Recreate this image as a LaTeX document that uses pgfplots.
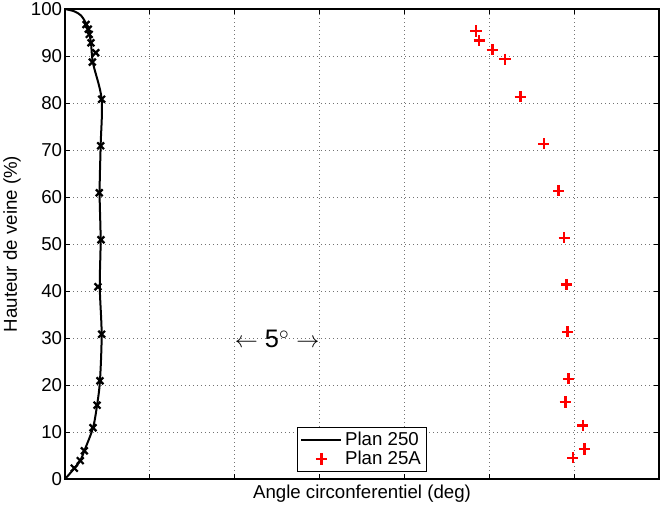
\documentclass[border=0pt]{standalone}
\usepackage{fontspec}
\setmainfont{Liberation Sans}
\usepackage{pgfplots}
\pgfplotsset{compat=1.18}
\pgfplotsset{
  lineleg/.style={legend image code/.code={\draw[##1] (0pt,0pt) -- (30pt,0pt);}},
  markleg/.style={legend image code/.code={\draw[mark repeat=2, mark phase=2, ##1] plot coordinates {(0pt,0pt) (15pt,0pt) (30pt,0pt)};}},
}
\begin{document}
\begin{tikzpicture}
\begin{axis}[name=ax, scale only axis, width=445.5pt, height=352.5pt,
  xmin=0, xmax=35, ymin=0, ymax=100,
  xtick={0,5,...,35}, xticklabels={}, ytick={0,10,...,100},
  grid=major, grid style={dash pattern=on 0.7pt off 2.3pt, line width=0.6pt, black!55},
  tick align=inside, major tick length=4pt,
  axis line style={line width=0.8pt},
  every tick/.style={black, line width=0.6pt},
  /pgf/number format/assume math mode=true,
  tick label style={font=\fontsize{14pt}{16pt}\selectfont},
  yticklabel style={inner xsep=2pt},
  label style={font=\fontsize{14pt}{16pt}\selectfont},
  xlabel={Angle circonferentiel (deg)}, ylabel={Hauteur de veine (\%)},
  xlabel style={at={(axis description cs:0.5,-0.031)}, anchor=center},
  ylabel style={at={(axis description cs:-0.0892,0.5)}, anchor=center},
  legend style={at={(axis description cs:0.5,0.015)}, anchor=south,
    font=\fontsize{14pt}{16pt}\selectfont, draw=black, line width=0.7pt,
    row sep=-1pt, inner xsep=2pt, inner ysep=1.5pt},
  legend cell align=left,
]
\addplot[black, line width=1.5pt, smooth, lineleg]
  coordinates {(0,0) (0.25,1.0) (0.55,2.3) (0.90,3.9) (1.14,6.0) (1.65,10.9) (1.89,15.7)
  (2.06,20.9) (2.16,30.8) (2.05,40.9) (2.10,50.9) (2.04,60.9) (2.10,70.9) (2.16,80.8)
  (1.65,88.5) (1.53,92.8) (1.37,95.7) (1.20,97.2) (0.95,98.6) (0.55,99.5) (0,100)};
\addlegendentry{Plan 250}
\addplot[forget plot, only marks, black, mark=x, mark size=3.6pt, line width=1.7pt]
  coordinates {(1.24,96.7) (1.37,95.7) (1.43,94.6) (1.53,92.8) (1.81,90.7) (1.61,88.7)
  (2.16,80.8) (2.10,70.9) (2.02,60.9) (2.12,50.9) (1.94,40.9) (2.16,30.8) (2.06,20.9)
  (1.89,15.7) (1.65,10.9) (1.14,6.0) (0.90,3.9) (0.55,2.3)};
\addplot[only marks, red, mark=+, mark size=4.2pt, line width=1.8pt, markleg]
  coordinates {(24.22,95.3) (24.40,93.3) (25.18,91.3) (25.93,89.3) (26.83,81.3) (28.21,71.3)
  (29.09,61.3) (29.42,51.3) (29.56,41.4) (29.62,31.3) (29.66,21.3) (29.48,16.4)
  (30.51,11.4) (30.60,6.4) (29.92,4.5)};
\addlegendentry{Plan 25A}
\node[anchor=base, inner sep=0pt] at (axis cs:12.5,27.9) {\fontsize{19pt}{21pt}\selectfont $\leftarrow$ 5$^\circ$ $\rightarrow$};
\end{axis}
\pgfresetboundingbox
\path[use as bounding box] ([xshift=-48.75pt,yshift=-21pt]ax.south west) rectangle ([xshift=447pt,yshift=359.25pt]ax.south west);
\end{tikzpicture}
\end{document}
